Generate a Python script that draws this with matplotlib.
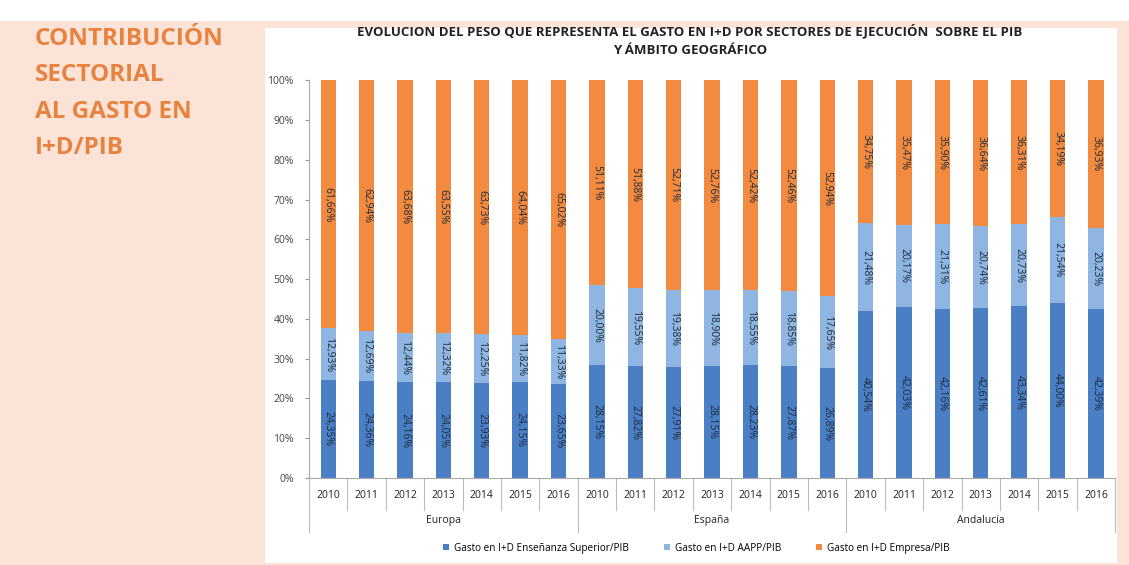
import numpy as np
import matplotlib.pyplot as plt
from matplotlib.patches import Rectangle
import matplotlib.transforms as mtransforms

plt.rcParams['font.family'] = ['Open Sans', 'DejaVu Sans']

years = ["2010", "2011", "2012", "2013", "2014", "2015", "2016"]
regions = ["Europa", "España", "Andalucía"]

# values (label text), bars are drawn as 100% stacked
ens_sup = [24.35, 24.36, 24.16, 24.05, 23.93, 24.15, 23.65,
           28.15, 27.82, 27.91, 28.15, 28.23, 27.87, 26.89,
           40.54, 42.03, 42.16, 42.61, 43.34, 44.00, 42.39]
aapp = [12.93, 12.69, 12.44, 12.32, 12.25, 11.82, 11.33,
        20.00, 19.55, 19.38, 18.90, 18.55, 18.85, 17.65,
        21.48, 20.17, 21.31, 20.74, 20.73, 21.54, 20.23]
empresa = [61.66, 62.94, 63.68, 63.55, 63.73, 64.04, 65.02,
           51.11, 51.88, 52.71, 52.76, 52.42, 52.46, 52.94,
           34.75, 35.47, 35.90, 36.64, 36.31, 34.19, 36.93]
series_names = ["Gasto en I+D Enseñanza Superior/PIB", "Gasto en I+D AAPP/PIB",
                "Gasto en I+D Empresa/PIB"]
colors = ["#4a7fc6", "#8fb6e3", "#f28a3f"]

vals = np.array([ens_sup, aapp, empresa])
shares = vals / vals.sum(axis=0) * 100
x = np.arange(len(ens_sup))

fig = plt.figure(figsize=(11.29, 5.65), dpi=100)
fig.patch.set_facecolor("#fbe4d7")
# white strip on top and white chart panel
fig.patches.append(Rectangle((0, 0.962), 1, 0.038, transform=fig.transFigure,
                             facecolor="white", edgecolor="none", zorder=0))
fig.patches.append(Rectangle((0.235, 0.004), 0.754, 0.946, transform=fig.transFigure,
                             facecolor="white", edgecolor="none", zorder=0))

fig.text(0.031, 0.952, "CONTRIBUCIÓN\nSECTORIAL\nAL GASTO EN\nI+D/PIB", ha="left", va="top",
         fontsize=17.5, fontweight="bold", color="#e8823f", linespacing=1.68)

fig.text(0.611, 0.957, "EVOLUCION DEL PESO QUE REPRESENTA EL GASTO EN I+D POR SECTORES DE EJECUCIÓN  SOBRE EL PIB\nY ÁMBITO GEOGRÁFICO",
         ha="center", va="top", fontsize=9.5, fontweight="bold", color="#222222", linespacing=1.5)

ax = fig.add_axes([0.2737, 0.154, 0.714, 0.704])
ax.set_zorder(3)
ax.set_facecolor("none")

bottom = np.zeros(len(x))
for i in range(3):
    ax.bar(x, shares[i], 0.4, bottom=bottom, color=colors[i], label=series_names[i], zorder=2)
    for xi, b, h, v in zip(x, bottom, shares[i], vals[i]):
        ax.text(xi, b + h / 2, f"{v:.2f}%".replace(".", ","), rotation=-90,
                ha="center", va="center", fontsize=7.5, color="#1d2b3a", zorder=3)
    bottom += shares[i]

ax.set_xlim(-0.5, len(x) - 0.5)
ax.set_ylim(0, 100)
ax.set_yticks(np.arange(0, 101, 10))
ax.set_yticklabels([f"{t}%" for t in range(0, 101, 10)], fontsize=7.5, color="#444444")
ax.tick_params(axis="y", length=3, color="#999999", pad=8)
ax.set_xticks([])
for s in ["top", "right"]:
    ax.spines[s].set_visible(False)
ax.spines["left"].set_color("#aaaaaa")
ax.spines["bottom"].set_color("#aaaaaa")

trans = mtransforms.blended_transform_factory(ax.transData, ax.transAxes)
for xi in x:
    ax.text(xi, -0.045, years[xi % 7], transform=trans, ha="center", va="center",
            fontsize=7.5, color="#222222")
for k in range(len(x) + 1):
    xb = k - 0.5
    low = -0.135 if k % 7 == 0 else -0.08
    ax.plot([xb, xb], [0, low], transform=trans, color="#bbbbbb", lw=0.8, clip_on=False)
for g, name in enumerate(regions):
    ax.text(g * 7 + 3, -0.108, name, transform=trans, ha="center", va="center",
            fontsize=7.5, color="#222222")

leg = fig.legend(loc="center", bbox_to_anchor=(0.617, 0.03), ncol=3, frameon=False,
                 fontsize=7.2, handlelength=0.6, handleheight=0.6, columnspacing=3.5,
                 handletextpad=0.5)
leg.set_zorder(4)

fig.savefig("out.png", dpi=100, facecolor=fig.get_facecolor())
